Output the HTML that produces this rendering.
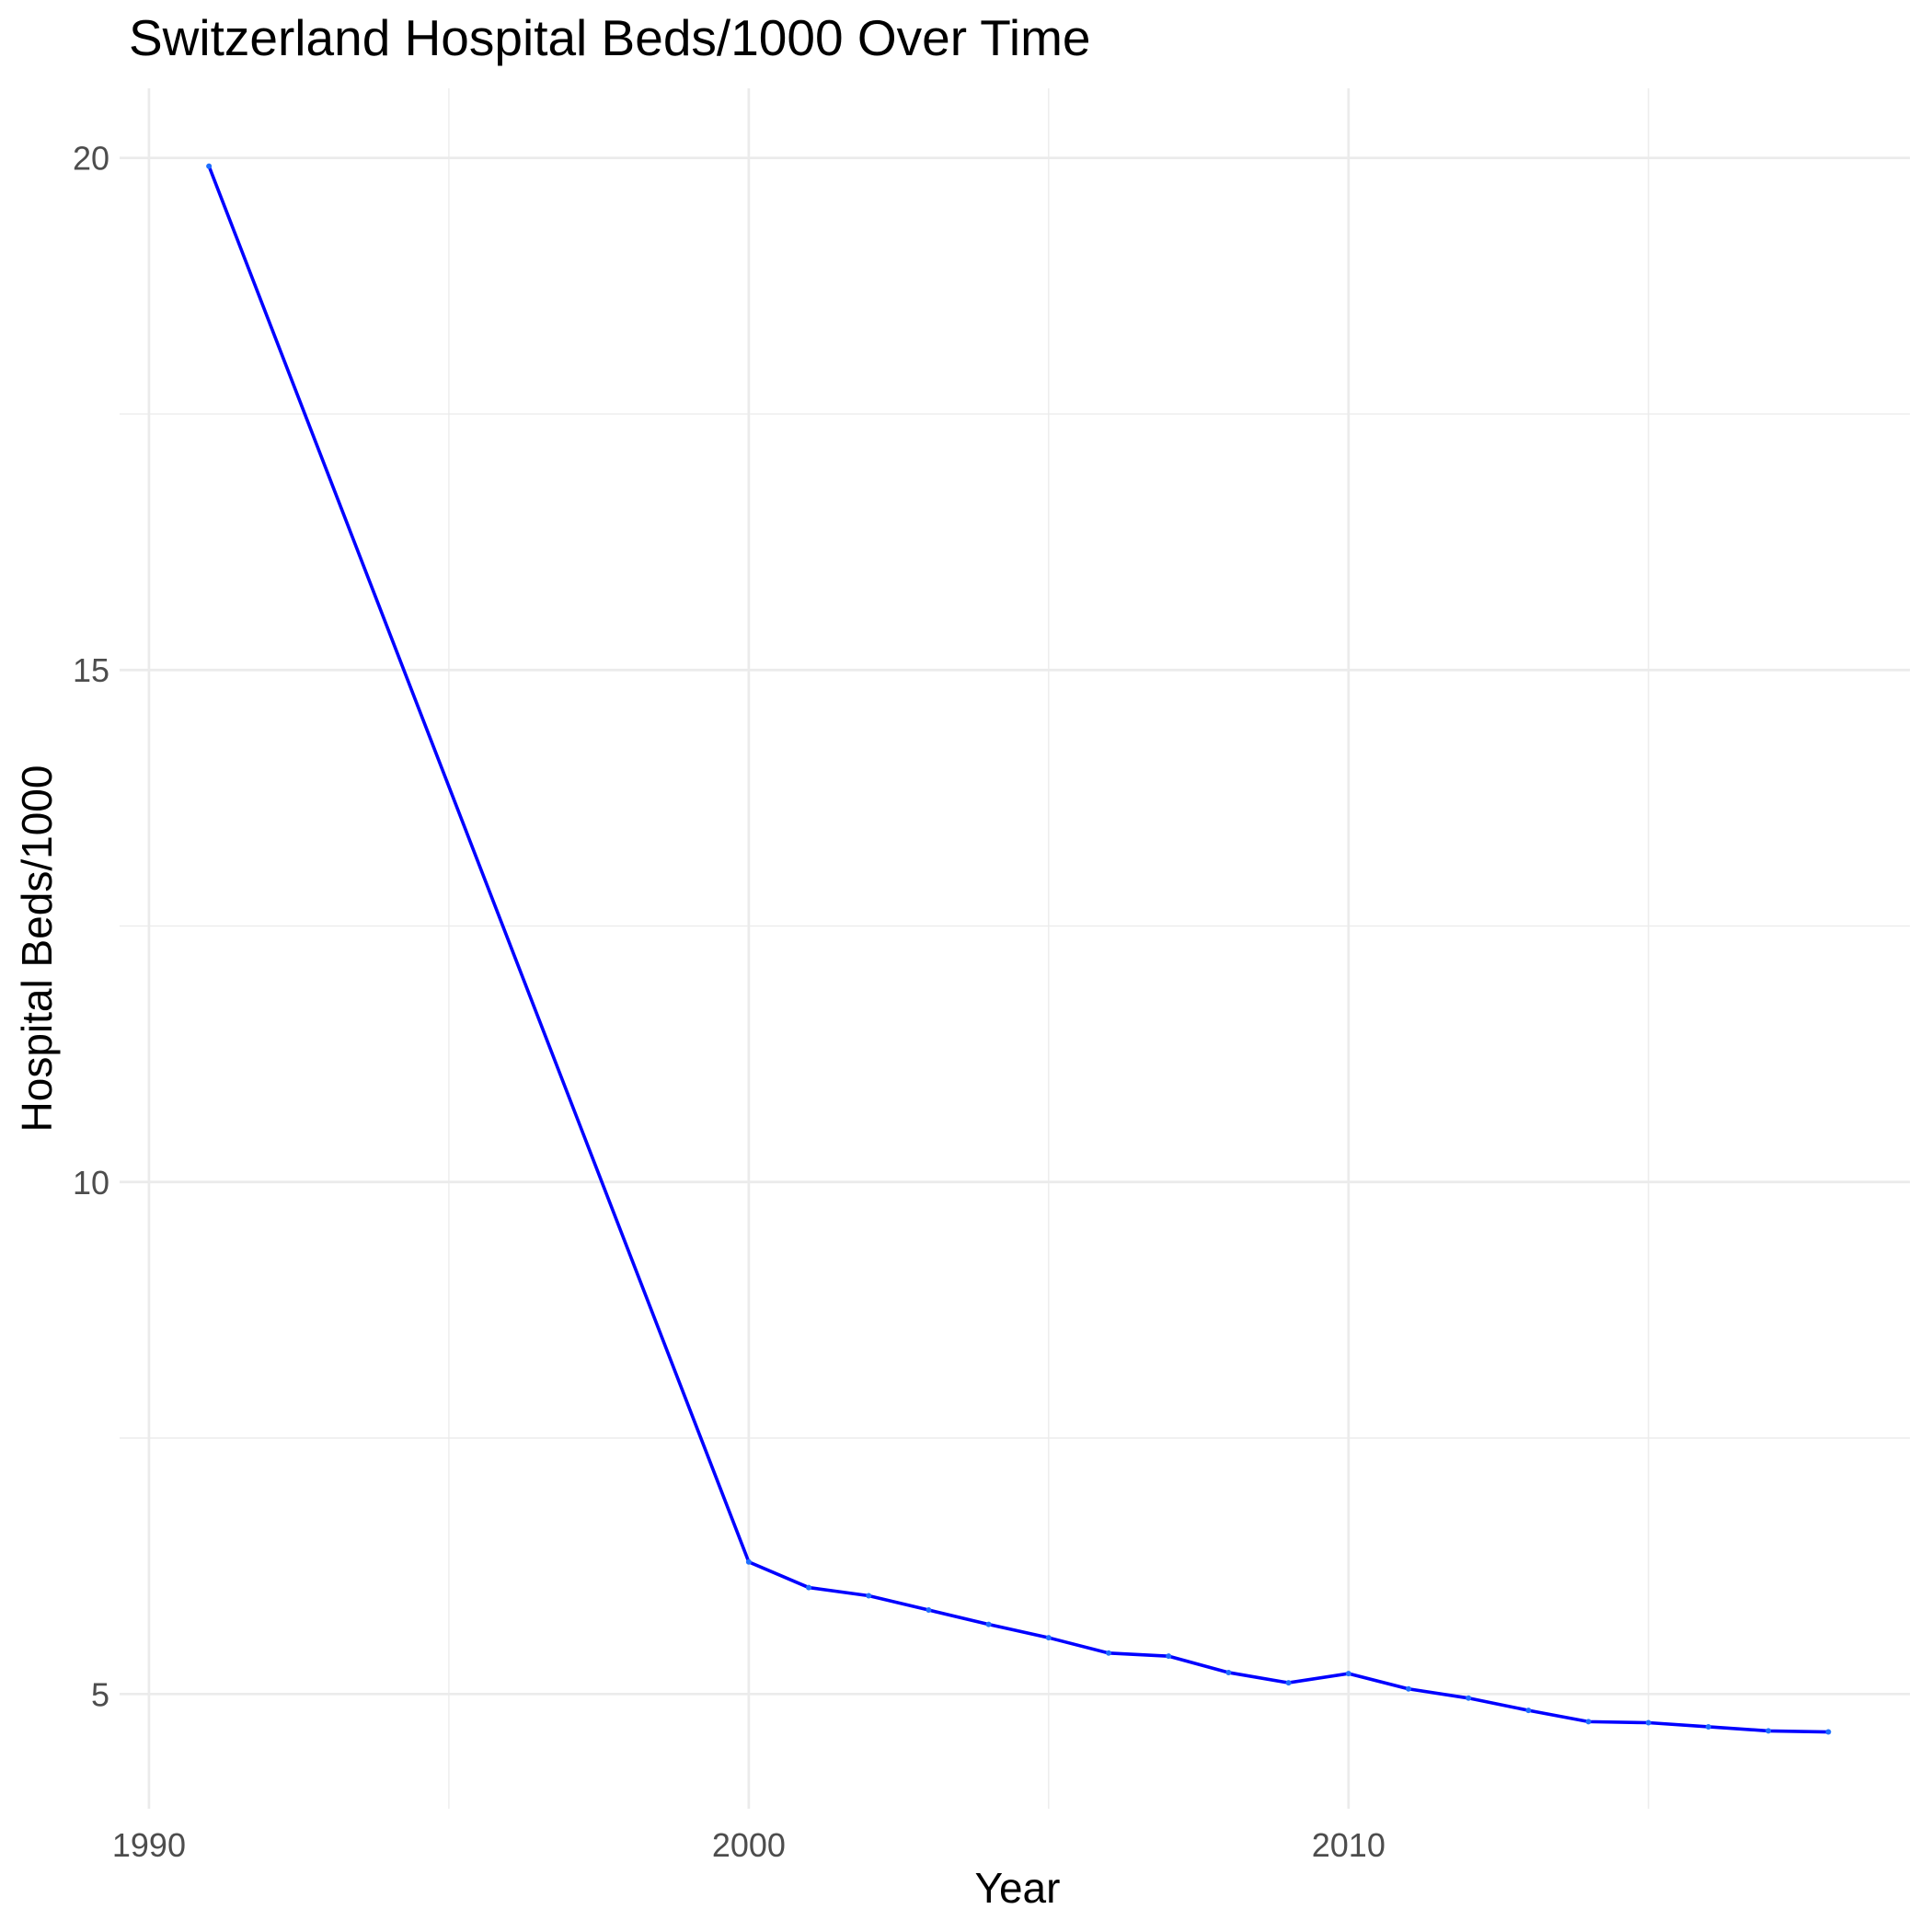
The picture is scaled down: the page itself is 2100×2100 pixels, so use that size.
<!DOCTYPE html>
<html><head><meta charset="utf-8"><style>
body{margin:0;background:#fff}
svg{display:block;font-family:"Liberation Sans",Arial,sans-serif}
</style></head><body>
<svg id="chart" width="2100" height="2100" viewBox="0 0 2100 2100" xmlns="http://www.w3.org/2000/svg">
<rect width="2100" height="2100" fill="#fff"/>
<text x="140" y="60" font-size="55" fill="#000">Switzerland Hospital Beds/1000 Over Time</text>
<g id="grid"></g>
<g id="ticks"></g>
<g id="series"></g>
<text x="1106" y="2068" font-size="46" text-anchor="middle" fill="#000">Year</text>
<text transform="translate(44,1031) rotate(-90)" font-size="46" text-anchor="middle" dominant-baseline="middle" fill="#000">Hospital Beds/1000</text>
</svg>
<script>
const years=[1991,2000,2001,2002,2003,2004,2005,2006,2007,2008,2009,2010,2011,2012,2013,2014,2015,2016,2017,2018];
const beds=[19.92,6.29,6.04,5.96,5.82,5.68,5.55,5.40,5.37,5.21,5.11,5.20,5.05,4.96,4.84,4.73,4.72,4.68,4.64,4.63];
const xTicks=[1990,2000,2010];
const xMinor=[1995,2005,2015];
const yTicks=[5,10,15,20];
const yMinor=[7.5,12.5,17.5];
const L=130,R=2076,T=96,B=1966,x0=1989.51,x1=2019.36,y0=3.88,y1=20.68;
const sx=v=>L+(v-x0)/(x1-x0)*(R-L);
const sy=v=>B-(v-y0)/(y1-y0)*(B-T);
const NS="http://www.w3.org/2000/svg";
function mk(t,a,p){const e=document.createElementNS(NS,t);for(const k in a)e.setAttribute(k,a[k]);p.appendChild(e);return e;}
const g=document.getElementById('grid'),tk=document.getElementById('ticks'),s=document.getElementById('series');
yMinor.forEach(v=>{const e=mk('line',{x1:L,x2:R,y1:sy(v),y2:sy(v),stroke:'#ebebeb','stroke-width':1.3},g);

});
xMinor.forEach(v=>{const e=mk('line',{x1:sx(v),x2:sx(v),y1:T,y2:B,stroke:'#ebebeb','stroke-width':1.3},g);

});
yTicks.forEach(v=>{const e=mk('line',{x1:L,x2:R,y1:sy(v),y2:sy(v),stroke:'#ebebeb','stroke-width':2.7},g);


const t=mk('text',{x:119,y:sy(v)+13,'font-size':36,'text-anchor':'end',fill:'#4d4d4d'},tk);t.textContent=v;

});
xTicks.forEach(v=>{const e=mk('line',{x1:sx(v),x2:sx(v),y1:T,y2:B,stroke:'#ebebeb','stroke-width':2.7},g);


const t=mk('text',{x:sx(v),y:2018,'font-size':36,'text-anchor':'middle',fill:'#4d4d4d'},tk);t.textContent=v;

});
const pl=mk('polyline',{points:years.map((y,i)=>sx(y)+','+sy(beds[i])).join(' '),fill:'none',stroke:'#0000ff','stroke-width':3.6},s);


years.forEach((y,i)=>{const c=mk('circle',{cx:sx(y),cy:sy(beds[i]),r:3,fill:'#1e6fff'},s);

});
</script>
</body></html>
